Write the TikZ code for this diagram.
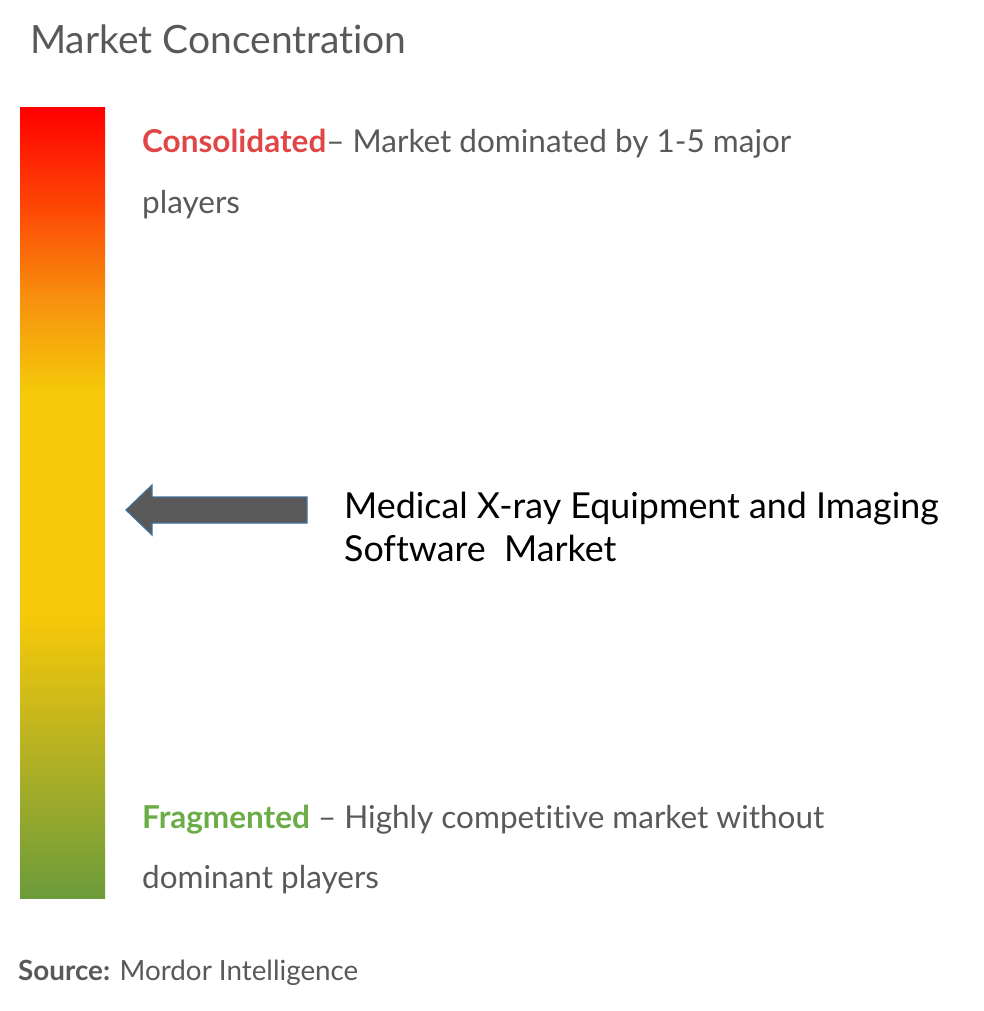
\documentclass[tikz,border=0pt]{standalone}
\usepackage{fontspec}
\setmainfont{Lato}[Ligatures=NoCommon]
\definecolor{txtgray}{HTML}{595959}
\definecolor{consred}{HTML}{E04646}
\definecolor{fraggreen}{HTML}{6AAC45}
\definecolor{arrowfill}{HTML}{595959}
\definecolor{arrowedge}{HTML}{41719C}
\pgfdeclareverticalshading{concbar}{100bp}{color(0bp)=({rgb,255:red,107;green,155;blue,58}); color(25bp)=({rgb,255:red,107;green,155;blue,58}); color(35.6bp)=({rgb,255:red,192;green,181;blue,32}); color(42.6bp)=({rgb,255:red,245;green,200;blue,10}); color(57.2bp)=({rgb,255:red,245;green,200;blue,10}); color(62.8bp)=({rgb,255:red,247;green,146;blue,14}); color(68.5bp)=({rgb,255:red,253;green,74;blue,5}); color(75bp)=({rgb,255:red,255;green,0;blue,0}); color(100bp)=({rgb,255:red,255;green,0;blue,0})}
\begin{document}
\begin{tikzpicture}[x=1pt,y=-1pt,
  desc/.style={anchor=base west,align=left,inner sep=0pt,text=txtgray,font=\fontsize{31.5}{60}\selectfont}]
\useasboundingbox (0,0) rectangle (983,1011);
\node[anchor=base west,inner sep=0pt,text=txtgray,font=\fontsize{39}{44}\selectfont] (title) at (30,54) {Market Concentration};
% colour bar
\shade[shading=concbar] (20,108) rectangle (105,898);
\node[desc] (cons) at (142,153) {\textcolor{consred}{\textbf{Consolidated}}-- Market dominated by 1-5 major};
\node[desc] (cons2) at (142,213) {players};
\node[desc] (frag) at (142,828) {\textcolor{fraggreen}{\textbf{Fragmented}} -- Highly competitive market without};
\node[desc] (frag2) at (142,888) {dominant players};
% pointer
\filldraw[fill=arrowfill,draw=arrowedge,line width=1.2pt,line join=miter]
  (126,510) -- (152,485) -- (152,497) -- (307,497) -- (307,523) -- (152,523) -- (152,535) -- cycle;
\node[anchor=base west,inner sep=0pt,font=\fontsize{35.8}{42}\selectfont] (mkt) at (344,518) {Medical X-ray Equipment and Imaging};
\node[anchor=base west,inner sep=0pt,font=\fontsize{35.8}{42}\selectfont] (mkt2) at (344,561) {Software\ \ Market};
\node[anchor=base west,inner sep=0pt,text=txtgray,font=\fontsize{27.8}{32}\selectfont] (src) at (18,980) {\textbf{Source:} Mordor Intelligence};
\end{tikzpicture}
\end{document}
